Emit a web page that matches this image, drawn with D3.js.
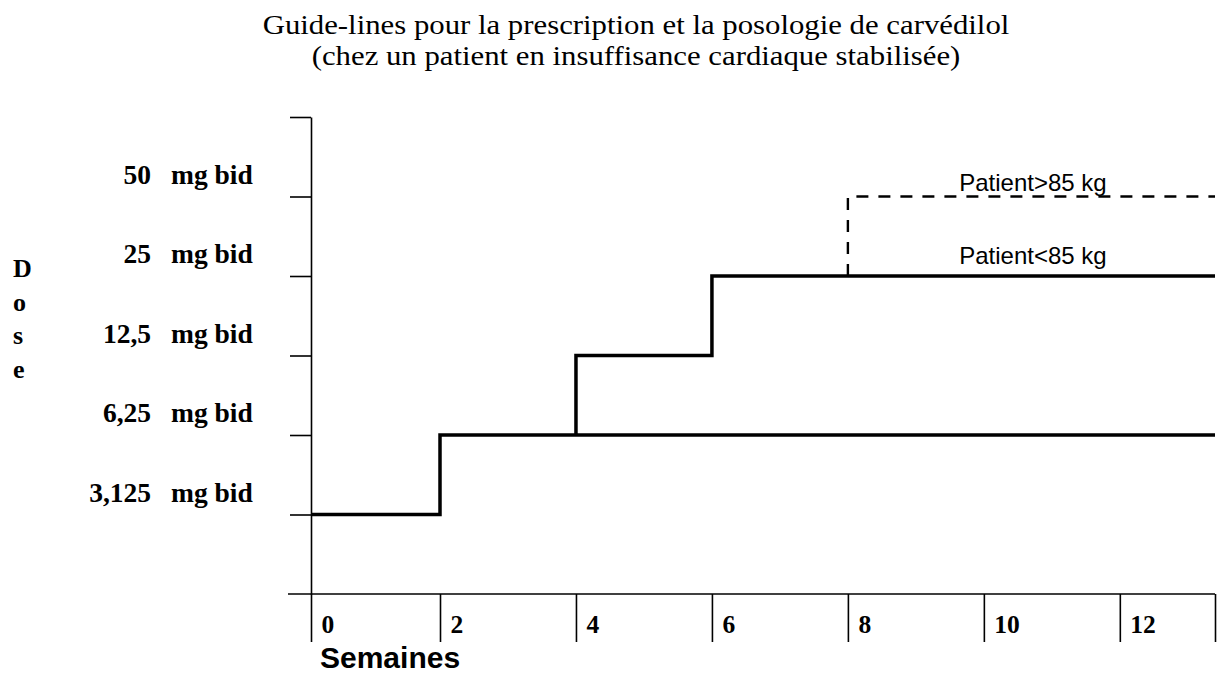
<!DOCTYPE html>
<html>
  <head>
    <meta charset="utf-8">
    <title>Carvedilol</title>
  <script src="https://d3js.org/d3.v7.min.js"></script>
  <style>
    body { margin: 0; background: #fff; }
  </style>
 </head>
  <body>

<script type="text/javascript">

// data
var titleLines = ["Guide-lines pour la prescription et la posologie de carvédilol",
                  "(chez un patient en insuffisance cardiaque stabilisée)"];
var doses = ["3,125", "6,25", "12,5", "25", "50"];   // mg bid, levels 1..5
var weekTicks = [0, 2, 4, 6, 8, 10, 12];
var lastWeek = 13.4;

// steps : [week, dose]
var stepMain   = [[0, "3,125"], [2, "6,25"], [lastWeek, "6,25"]];
var stepUp     = [[4, "6,25"], [4, "12,5"], [6, "25"], [lastWeek, "25"]];
var stepHeavy  = [[8, "25"], [8, "50"], [lastWeek, "50"]];
var seriesNames = ["Patient>85 kg", "Patient<85 kg"];

var width = 1217, height = 673;

var svg = d3.select("body")
      .append("svg")
      .attr("width", width)
      .attr("height", height)
      .style("font-family", "'Liberation Serif', 'Times New Roman', serif");

var x = d3.scaleLinear()
    .domain([0, 2, lastWeek])
    .range([311, 440, 1215]);

var y = d3.scaleLinear()
    .domain([0, 6])
    .range([594, 117]);

function level(d) { return doses.indexOf(d) + 1; }

// title (the original type is a bit wide, hence the x stretch)
svg.append("g").selectAll("text")
    .data(titleLines)
    .enter().append("text")
    .attr("transform", function(d, i) { return "translate(636," + (34 + i * 31) + ") scale(1.14,1)"; })
    .attr("text-anchor", "middle")
    .attr("font-size", 27)
    .text(function(d) { return d; });

// y axis
var yAxis = svg.append("g")
    .attr("transform", "translate(" + x(0) + ",0)")
    .call(d3.axisLeft(y)
            .tickValues(d3.range(1, 7))
            .tickSize(21)
            .tickSizeOuter(0)
            .tickFormat(""));
yAxis.selectAll("path, line").attr("stroke", "#000").attr("stroke-width", 1.6);

// x axis
var xAxis = svg.append("g")
    .attr("transform", "translate(0," + y(0) + ")")
    .call(d3.axisBottom(x)
            .tickValues(weekTicks.concat([lastWeek]))
            .tickSize(48)
            .tickSizeOuter(0)
            .tickFormat(function(d) { return d === lastWeek ? "" : d; }));
xAxis.select(".domain").remove();
xAxis.append("line")
    .attr("x1", x(0) - 23).attr("x2", x(lastWeek))
    .attr("y1", 0).attr("y2", 0);
xAxis.selectAll("line").attr("stroke", "#000").attr("stroke-width", 1.6);
xAxis.selectAll("text")
    .attr("x", 10)
    .attr("y", 39)
    .attr("dy", 0)
    .attr("text-anchor", "start")
    .attr("fill", "#000")
    .attr("font-family", "'Liberation Serif', 'Times New Roman', serif")
    .attr("font-weight", "bold")
    .attr("font-size", 25.5);

svg.append("text")
    .attr("x", 320)
    .attr("y", 668)
    .attr("font-family", "'Liberation Sans', Arial, sans-serif")
    .attr("font-weight", "bold")
    .attr("font-size", 30)
    .text("Semaines");

// dose labels
var lab = svg.append("g").selectAll("g")
    .data(doses)
    .enter().append("g")
    .attr("font-weight", "bold")
    .attr("font-size", 27.5);
lab.append("text")
    .attr("x", 151)
    .attr("y", function(d) { return y(level(d)) - 13; })
    .attr("text-anchor", "end")
    .text(function(d) { return d; });
lab.append("text")
    .attr("x", 171)
    .attr("y", function(d) { return y(level(d)) - 13; })
    .text("mg bid");

svg.append("g").selectAll("text")
    .data("Dose".split(""))
    .enter().append("text")
    .attr("x", 13)
    .attr("y", function(d, i) { return 277 + i * 33.5; })
    .attr("font-weight", "bold")
    .attr("font-size", 26)
    .text(function(d) { return d; });

// step lines
var line = d3.line()
    .x(function(d) { return x(d[0]); })
    .y(function(d) { return y(level(d[1])); })
    .curve(d3.curveStepAfter);

svg.append("g").selectAll("path")
    .data([stepMain, stepUp])
    .enter().append("path")
    .attr("d", line)
    .attr("fill", "none")
    .attr("stroke", "#000")
    .attr("stroke-width", 3.5);

svg.append("path")
    .attr("d", line(stepHeavy))
    .attr("fill", "none")
    .attr("stroke", "#000")
    .attr("stroke-width", 2.4)
    .attr("stroke-dasharray", "12,10");

// series labels
svg.append("g").selectAll("text")
    .data(seriesNames)
    .enter().append("text")
    .attr("x", 1033)
    .attr("y", function(d, i) { return i === 0 ? y(level("50")) - 6 : y(level("25")) - 12; })
    .attr("text-anchor", "middle")
    .attr("font-family", "'Liberation Sans', Arial, sans-serif")
    .attr("font-size", 24)
    .text(function(d) { return d; });

</script>

</body>
</html>
